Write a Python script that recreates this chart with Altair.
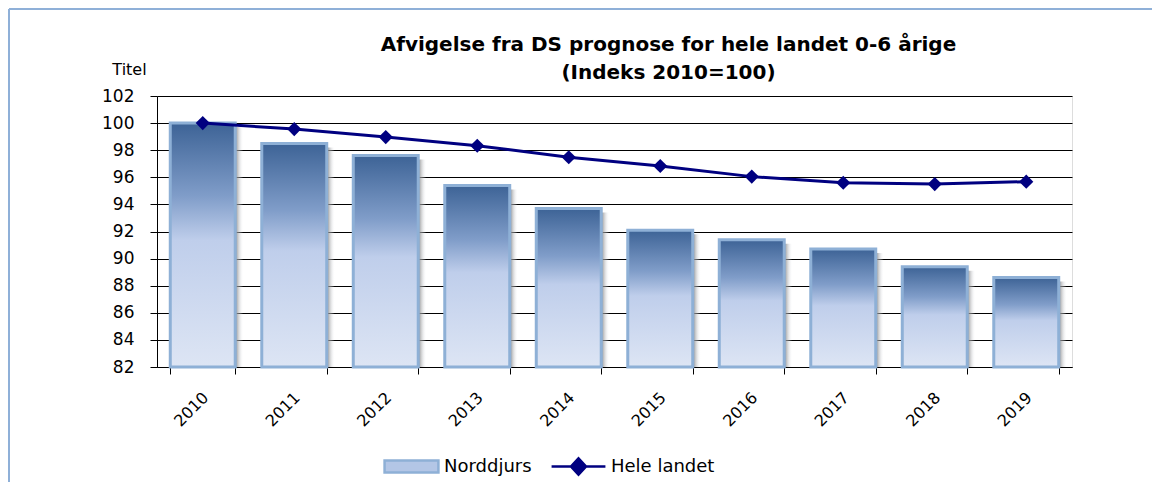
import altair as alt
import pandas as pd

years = ["2010", "2011", "2012", "2013", "2014", "2015", "2016", "2017", "2018", "2019"]
norddjurs = [100.0, 98.5, 97.6, 95.4, 93.7, 92.1, 91.4, 90.7, 89.4, 88.6]
hele_landet = [100.0, 99.56, 98.97, 98.33, 97.48, 96.83, 96.05, 95.6, 95.5, 95.68]
y_ticks = [82, 84, 86, 88, 90, 92, 94, 96, 98, 100, 102]
bar_series = ["Norddjurs"]
line_series = ["Hele landet"]
title_lines = ["Afvigelse fra DS prognose for hele landet 0-6 årige", "(Indeks 2010=100)"]

df = pd.DataFrame({"year": years, "Norddjurs": norddjurs, "Hele landet": hele_landet})

FONT = "DejaVu Sans"

x_enc = alt.X(
    "year:N",
    sort=years,
    scale=alt.Scale(paddingInner=0.29, paddingOuter=0.145),
    axis=alt.Axis(
        title=None, labelAngle=-45, labelFont=FONT, labelFontSize=16, labelColor="black",
        tickBand="extent", tickSize=7, tickColor="black", domainColor="black",
        labelPadding=15, labelOffset=-3, grid=False,
    ),
)

y_scale = alt.Scale(domain=[82, 102], zero=False, nice=False)
y_axis = alt.Axis(
    values=y_ticks, title="Titel", titleAngle=0, titleX=-28, titleY=-27,
    titleAlign="center", titleBaseline="middle", titleFont=FONT, titleFontSize=16,
    titleFontWeight="normal", titleColor="black",
    labelFont=FONT, labelFontSize=17, labelColor="black", labelPadding=16,
    labelOverlap=False, labelFlush=False,
    tickSize=7, tickColor="black", domainColor="black",
    grid=True, gridColor="black", gridWidth=1.2, gridOpacity=1,
)

base = alt.Chart(df)

bar_gradient = alt.Gradient(
    gradient="linear", x1=0, x2=0, y1=0, y2=1,
    stops=[
        alt.GradientStop(color="#3D6396", offset=0),
        alt.GradientStop(color="#809DC9", offset=0.3),
        alt.GradientStop(color="#BFCEEB", offset=0.48),
        alt.GradientStop(color="#DDE5F4", offset=1),
    ],
)

shadow_gradient = alt.Gradient(
    gradient="linear", x1=0, x2=1, y1=0, y2=0,
    stops=[
        alt.GradientStop(color="#6a6a6a", offset=0),
        alt.GradientStop(color="#7a7a7a", offset=0.87),
        alt.GradientStop(color="rgba(242,245,250,0)", offset=1),
    ],
)

shadow = base.mark_bar(fill=shadow_gradient, xOffset=8, yOffset=4, opacity=1).encode(
    x=x_enc,
    y=alt.Y("Norddjurs:Q", scale=y_scale, axis=y_axis),
    y2=alt.Y2(datum=82),
)

bars = base.mark_bar(fill=bar_gradient, stroke="#8EB0D6", strokeWidth=3).encode(
    x=x_enc,
    y=alt.Y("Norddjurs:Q", scale=y_scale, axis=y_axis),
    y2=alt.Y2(datum=82),
)

# legend-only layer for the bar series (draws nothing)
bar_legend = base.transform_calculate(bseries="'Norddjurs'").transform_filter("false").mark_bar().encode(
    fill=alt.Fill(
        "bseries:N",
        scale=alt.Scale(domain=bar_series, range=["#B3C6E6"]),
        legend=alt.Legend(
            orient="none", legendX=226, legendY=342, title=None,
            labelFont=FONT, labelFontSize=18, labelColor="black",
            symbolType="M-1,-0.22H1V0.22H-1Z", symbolSize=2900,
            symbolStrokeColor="#8EB0D6", symbolStrokeWidth=2.5, symbolOpacity=1,
            labelOffset=4,
        ),
    )
)

line = base.transform_calculate(series="'Hele landet'").mark_line(
    strokeWidth=3,
    point=alt.OverlayMarkDef(shape="diamond", size=200, filled=True, opacity=1),
).encode(
    x=x_enc,
    y=alt.Y("Hele landet:Q", scale=y_scale, axis=y_axis),
    color=alt.Color(
        "series:N",
        scale=alt.Scale(domain=line_series, range=["#000080"]),
        legend=alt.Legend(
            orient="none", legendX=393, legendY=342, title=None,
            labelFont=FONT, labelFontSize=18, labelColor="black",
            symbolType="M-1,0H1M0,-0.3L0.28,0L0,0.3L-0.28,0Z", symbolSize=2900,
            symbolFillColor="#000080", symbolStrokeColor="#000080",
            symbolStrokeWidth=2.5, symbolOpacity=1, labelOffset=4,
        ),
    ),
)

# thin frame lines along the top and left edge of the chart
frame_df = pd.DataFrame({"k": [0]})
frame_top = alt.Chart(frame_df).mark_rule(color="#8FB0D8", strokeWidth=2).encode(
    x=alt.value(-148), x2=alt.value(995), y=alt.value(-87)
)
frame_left = alt.Chart(frame_df).mark_rule(color="#8FB0D8", strokeWidth=2).encode(
    x=alt.value(-148), y=alt.value(-87), y2=alt.value(386)
)

chart = (
    alt.layer(shadow, bars, line, bar_legend, frame_top, frame_left)
    .properties(
        width=915,
        height=271,
        autosize="none",
        padding={"left": 149, "top": 88, "right": 80, "bottom": 115},
        title=alt.TitleParams(
            text=title_lines, font=FONT, fontSize=20, fontWeight="bold", color="black",
            anchor="middle", frame="group", lineHeight=28, dy=79, dx=54,
        ),
    )
    .configure_view(fill="#F2F5FA", strokeWidth=0)
    .configure(background="white")
)

chart.save("out.html", embed_options={"renderer": "svg", "actions": False})
